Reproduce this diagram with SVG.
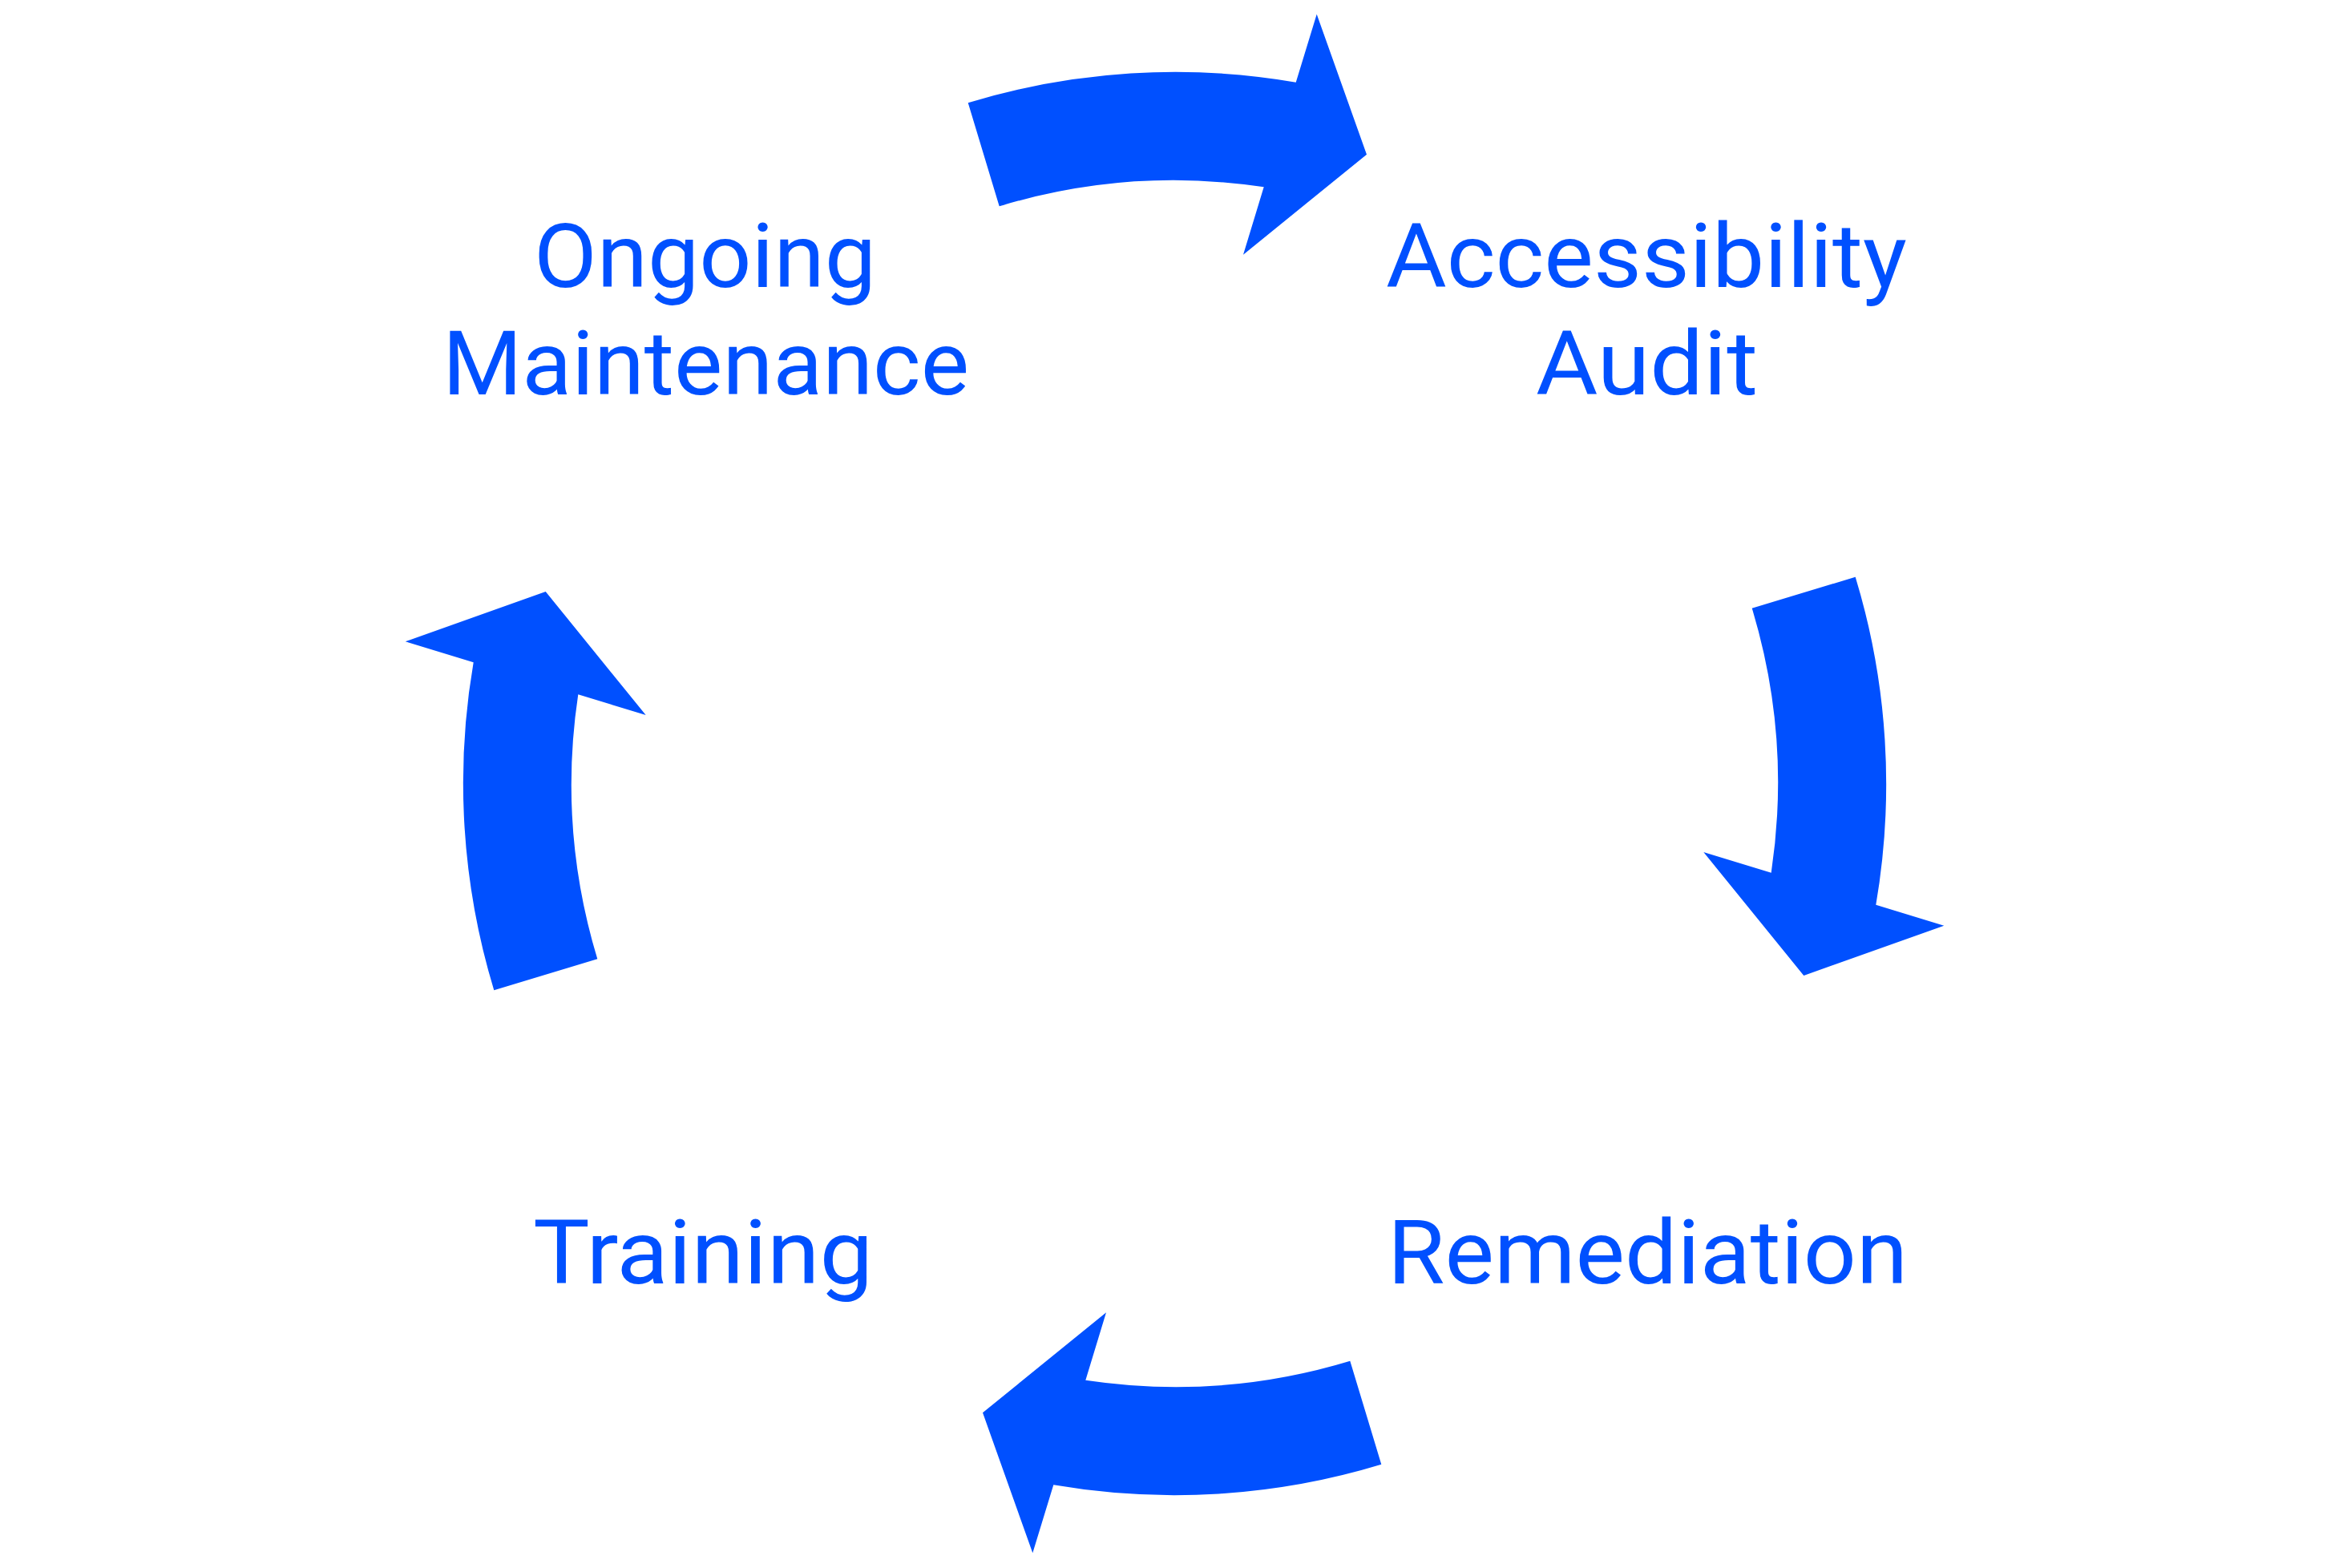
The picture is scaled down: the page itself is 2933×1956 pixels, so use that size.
<svg xmlns="http://www.w3.org/2000/svg" width="2933" height="1956" viewBox="0 0 2933 1956">
<style>
.arrow{fill:#0050ff;stroke:none}
.lbl{font-family:Roboto,"Liberation Sans",sans-serif;font-size:112px;fill:#0050ff}
</style>
<defs>
<path id="cyc-arrow" d="M1207.7,128.3 A887.7,887.7 0 0 1 1616.7,102.7 L1642.7,17.7 L1705,192.7 L1551,317.7 L1576.7,233.3 A752.6,752.6 0 0 0 1246.7,257.3 Z"/>
</defs>
<rect width="2933" height="1956" fill="#ffffff"/>
<g id="connectors">
<use id="arrow-top" class="arrow" href="#cyc-arrow"/>
<use id="arrow-right" class="arrow" href="#cyc-arrow" transform="rotate(90 1465.5 977.5)"/>
<use id="arrow-bottom" class="arrow" href="#cyc-arrow" transform="rotate(180 1465.5 977.5)"/>
<use id="arrow-left" class="arrow" href="#cyc-arrow" transform="rotate(270 1465.5 977.5)"/>
</g>
<g id="node-maintenance">
<text class="lbl" x="666" y="358" textLength="427" lengthAdjust="spacingAndGlyphs">Ongoing</text>
<text class="lbl" x="552" y="492" textLength="657" lengthAdjust="spacingAndGlyphs">Maintenance</text>
</g>
<g id="node-audit">
<text class="lbl" x="1729" y="358" textLength="650" lengthAdjust="spacingAndGlyphs">Accessibility</text>
<text class="lbl" x="1916" y="492" textLength="277" lengthAdjust="spacingAndGlyphs">Audit</text>
</g>
<g id="node-training">
<text class="lbl" x="665" y="1601" textLength="424" lengthAdjust="spacingAndGlyphs">Training</text>
</g>
<g id="node-remediation">
<text class="lbl" x="1731" y="1601" textLength="649" lengthAdjust="spacingAndGlyphs">Remediation</text>
</g>
</svg>
